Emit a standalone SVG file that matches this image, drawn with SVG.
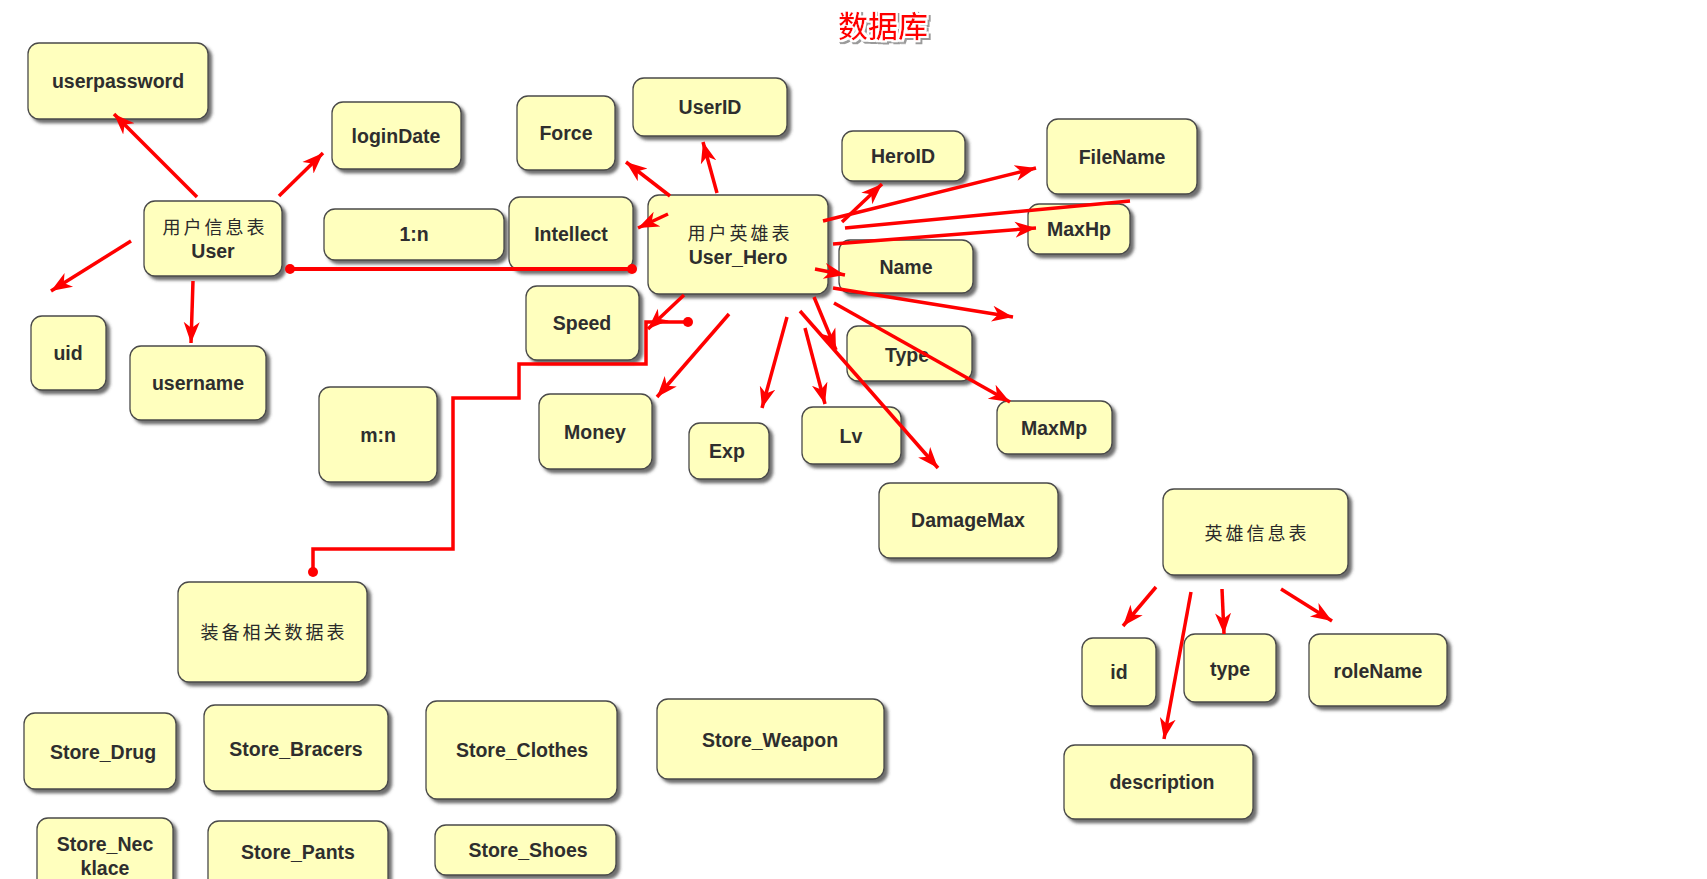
<svg xmlns="http://www.w3.org/2000/svg" width="1707" height="879" viewBox="0 0 1707 879">
<style>
.n rect{fill:#ffffbe;stroke:#4a4a4a;stroke-width:1.3;filter:url(#sh)}
.t{font-family:"Liberation Sans",Arial,sans-serif;font-weight:bold;font-size:19.5px;fill:#2e2e2e;text-anchor:middle}
.c{font-family:"Noto Sans CJK SC","Liberation Sans",sans-serif;font-size:18px;letter-spacing:3px;fill:#2a2a2a;text-anchor:middle}
.a{fill:none;stroke:#ff0000;stroke-width:3.5;marker-end:url(#ah)}
.l{fill:none;stroke:#ff0000;stroke-width:4}
.p{fill:none;stroke:#ff0000;stroke-width:3.5}
.d{fill:#ff0000}
.title{font-family:"Noto Sans CJK SC",sans-serif;font-size:30px;font-weight:500;fill:#ff0000;text-anchor:middle}
</style>
<defs>
<filter id="sh" x="-20%" y="-20%" width="140%" height="150%">
<feDropShadow dx="3.5" dy="3.5" stdDeviation="1.8" flood-color="#3c3c3c" flood-opacity="0.75"/>
</filter>
<filter id="tsh" x="-20%" y="-30%" width="140%" height="160%">
<feMorphology in="SourceAlpha" operator="dilate" radius="2" result="dl"/>
<feFlood flood-color="#ffffff"/>
<feComposite in2="dl" operator="in" result="w"/>
<feOffset in="dl" dx="1.5" dy="1.5" result="o"/>
<feFlood flood-color="#9a9a9a"/>
<feComposite in2="o" operator="in" result="g"/>
<feMerge><feMergeNode in="g"/><feMergeNode in="w"/><feMergeNode in="SourceGraphic"/></feMerge>
</filter>
<marker id="ah" markerUnits="userSpaceOnUse" markerWidth="24" markerHeight="20" refX="21" refY="9" orient="auto">
<path d="M0,1 L21,9 L0,17 L6,9 z" fill="#ff0000"/>
</marker>
</defs>
<rect width="1707" height="879" fill="#ffffff"/>
<text class="title" x="883" y="37" filter="url(#tsh)">数据库</text>

<g id="n-userpassword" class="n"><rect x="28" y="43" width="180" height="76" rx="11"/><text class="t" x="118" y="88">userpassword</text></g>
<g id="n-loginDate" class="n"><rect x="332" y="102" width="129" height="67" rx="11"/><text class="t" x="396" y="143">loginDate</text></g>
<g id="n-user" class="n"><rect x="144" y="201" width="138" height="75" rx="11"/><text class="c" x="215" y="234">用户信息表</text><text class="t" x="213" y="258">User</text></g>
<g id="n-1n" class="n"><rect x="324" y="209" width="180" height="51" rx="11"/><text class="t" x="414" y="241">1:n</text></g>
<g id="n-uid" class="n"><rect x="31" y="316" width="75" height="74" rx="11"/><text class="t" x="68" y="360">uid</text></g>
<g id="n-username" class="n"><rect x="130" y="346" width="136" height="74" rx="11"/><text class="t" x="198" y="390">username</text></g>
<g id="n-mn" class="n"><rect x="319" y="387" width="118" height="95" rx="11"/><text class="t" x="378" y="442">m:n</text></g>
<g id="n-force" class="n"><rect x="517" y="96" width="98" height="74" rx="11"/><text class="t" x="566" y="140">Force</text></g>
<g id="n-userid" class="n"><rect x="633" y="78" width="154" height="58" rx="11"/><text class="t" x="710" y="114">UserID</text></g>
<g id="n-intellect" class="n"><rect x="509" y="197" width="124" height="73" rx="11"/><text class="t" x="571" y="241">Intellect</text></g>
<g id="n-userhero" class="n"><rect x="648" y="195" width="180" height="99" rx="11"/><text class="c" x="740" y="240">用户英雄表</text><text class="t" x="738" y="264">User_Hero</text></g>
<g id="n-speed" class="n"><rect x="526" y="286" width="113" height="74" rx="11"/><text class="t" x="582" y="330">Speed</text></g>
<g id="n-heroid" class="n"><rect x="842" y="131" width="123" height="50" rx="11"/><text class="t" x="903" y="163">HeroID</text></g>
<g id="n-filename" class="n"><rect x="1047" y="119" width="150" height="75" rx="11"/><text class="t" x="1122" y="164">FileName</text></g>
<g id="n-maxhp" class="n"><rect x="1028" y="204" width="102" height="50" rx="11"/><text class="t" x="1079" y="236">MaxHp</text></g>
<g id="n-name" class="n"><rect x="839" y="240" width="134" height="53" rx="11"/><text class="t" x="906" y="274">Name</text></g>
<g id="n-type" class="n"><rect x="847" y="326" width="125" height="55" rx="11"/><text class="t" x="907" y="362">Type</text></g>
<g id="n-maxmp" class="n"><rect x="997" y="401" width="115" height="53" rx="11"/><text class="t" x="1054" y="435">MaxMp</text></g>
<g id="n-money" class="n"><rect x="539" y="394" width="113" height="75" rx="11"/><text class="t" x="595" y="439">Money</text></g>
<g id="n-exp" class="n"><rect x="689" y="423" width="80" height="56" rx="11"/><text class="t" x="727" y="458">Exp</text></g>
<g id="n-lv" class="n"><rect x="802" y="407" width="99" height="57" rx="11"/><text class="t" x="851" y="443">Lv</text></g>
<g id="n-damagemax" class="n"><rect x="879" y="483" width="179" height="75" rx="11"/><text class="t" x="968" y="527">DamageMax</text></g>
<g id="n-heroinfo" class="n"><rect x="1163" y="489" width="185" height="86" rx="11"/><text class="c" x="1257" y="540">英雄信息表</text></g>
<g id="n-id" class="n"><rect x="1082" y="638" width="74" height="68" rx="11"/><text class="t" x="1119" y="679">id</text></g>
<g id="n-type2" class="n"><rect x="1184" y="634" width="92" height="68" rx="11"/><text class="t" x="1230" y="676">type</text></g>
<g id="n-rolename" class="n"><rect x="1309" y="634" width="138" height="72" rx="11"/><text class="t" x="1378" y="678">roleName</text></g>
<g id="n-description" class="n"><rect x="1064" y="745" width="189" height="74" rx="11"/><text class="t" x="1162" y="789">description</text></g>
<g id="n-equip" class="n"><rect x="178" y="582" width="189" height="100" rx="11"/><text class="c" x="274" y="639">装备相关数据表</text></g>
<g id="n-store-drug" class="n"><rect x="24" y="713" width="152" height="76" rx="11"/><text class="t" x="103" y="759">Store_Drug</text></g>
<g id="n-store-bracers" class="n"><rect x="204" y="705" width="184" height="86" rx="11"/><text class="t" x="296" y="756">Store_Bracers</text></g>
<g id="n-store-clothes" class="n"><rect x="426" y="701" width="191" height="98" rx="11"/><text class="t" x="522" y="757">Store_Clothes</text></g>
<g id="n-store-weapon" class="n"><rect x="657" y="699" width="227" height="80" rx="11"/><text class="t" x="770" y="747">Store_Weapon</text></g>
<g id="n-store-necklace" class="n"><rect x="37" y="818" width="136" height="80" rx="11"/><text class="t" x="105" y="851">Store_Nec</text><text class="t" x="105" y="875">klace</text></g>
<g id="n-store-pants" class="n"><rect x="208" y="821" width="180" height="80" rx="11"/><text class="t" x="298" y="859">Store_Pants</text></g>
<g id="n-store-shoes" class="n"><rect x="435" y="825" width="181" height="50" rx="11"/><text class="t" x="528" y="857">Store_Shoes</text></g>

<g id="connectors">
<line class="a" x1="197" y1="197" x2="114" y2="114"/>
<line class="a" x1="279" y1="196" x2="323" y2="153"/>
<line class="a" x1="131" y1="241" x2="51" y2="291"/>
<line class="a" x1="193" y1="281" x2="191" y2="343"/>
<line class="l" x1="290" y1="269" x2="632" y2="269"/>
<circle class="d" cx="290" cy="269" r="5"/>
<circle class="d" cx="632" cy="269" r="5"/>
<polyline class="p" points="688,322 646,322 646,364 519,364 519,398 453,398 453,549 313,549 313,572"/>
<circle class="d" cx="688" cy="322" r="5"/>
<circle class="d" cx="313" cy="572" r="5"/>
<line class="a" x1="670" y1="196" x2="626" y2="162"/>
<line class="a" x1="717" y1="193" x2="703" y2="142"/>
<line class="a" x1="668" y1="214" x2="638" y2="228"/>
<line class="a" x1="842" y1="222" x2="882" y2="184"/>
<line class="a" x1="823" y1="221" x2="1036" y2="168"/>
<line class="p" x1="845" y1="228" x2="1130" y2="201"/>
<line class="a" x1="833" y1="244" x2="1036" y2="228"/>
<line class="a" x1="815" y1="269" x2="845" y2="275"/>
<line class="a" x1="833" y1="288" x2="1013" y2="317"/>
<line class="a" x1="834" y1="303" x2="1010" y2="402"/>
<line class="a" x1="814" y1="297" x2="836" y2="350"/>
<line class="a" x1="800" y1="311" x2="938" y2="468"/>
<line class="a" x1="805" y1="328" x2="825" y2="404"/>
<line class="a" x1="787" y1="317" x2="762" y2="408"/>
<line class="a" x1="729" y1="314" x2="657" y2="397"/>
<line class="a" x1="684" y1="295" x2="648" y2="329"/>
<line class="a" x1="1156" y1="587" x2="1123" y2="626"/>
<line class="a" x1="1191" y1="592" x2="1164" y2="739"/>
<line class="a" x1="1222" y1="589" x2="1224" y2="634"/>
<line class="a" x1="1281" y1="589" x2="1332" y2="621"/>
</g>
</svg>
